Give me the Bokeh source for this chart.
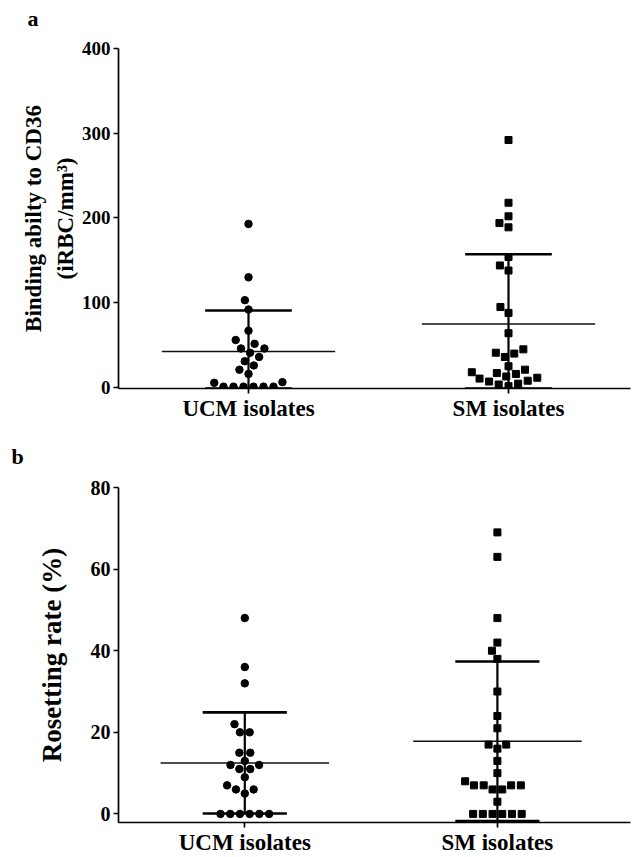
import math
from bokeh.plotting import figure
from bokeh.models import FixedTicker, Range1d, LinearAxis, Title
from bokeh.layouts import column
from bokeh.embed import file_html
from bokeh.resources import INLINE

# ---------------- data ----------------
groups = ["UCM isolates", "SM isolates"]
group_pos = [1, 2]

binding_ucm = [193, 130, 103, 92, 67, 56, 51.5, 46, 46, 41, 36, 31, 26, 21, 16,
               6.3, 5.5, 1, 1, 1, 1, 1, 1]
binding_sm = [292, 218, 202, 194, 189, 154, 144, 138, 95, 88, 64, 45, 41, 40, 36,
              25, 21, 18, 17, 16, 13, 11.5, 10.5, 8, 7, 4.5, 3.5, 1.5]

rosetting_ucm = [48, 36, 32, 22, 20, 20, 15, 15, 13, 12, 12, 11, 11, 9, 7, 6, 6, 5,
                 0, 0, 0, 0, 0, 0]
rosetting_sm = [69, 63, 48, 42, 40, 38, 30, 24, 21, 17, 17, 16, 13, 10, 8, 7, 7, 7, 7,
                6, 6, 3, 0, 0, 0, 0, 0, 0]

binding_ticks = [0, 100, 200, 300, 400]
rosetting_ticks = [0, 20, 40, 60, 80]

FONT = "Liberation Serif"


def stats(vals):
    n = len(vals)
    m = sum(vals) / n
    sd = math.sqrt(sum((v - m) ** 2 for v in vals) / (n - 1))
    return m, sd


def swarm(values, ppu, D=10.0):
    """Beeswarm offsets (in px) computed from values."""
    n = len(values)
    order = sorted(range(n), key=lambda i: values[i])
    placed = []
    off = [0.0] * n

    def ok(x, y):
        return all((x - px) ** 2 + (y - py) ** 2 >= D * D - 1e-6 for px, py in placed)

    i = 0
    while i < n:
        j = i
        while j < n and values[order[j]] == values[order[i]]:
            j += 1
        idx = order[i:j]
        y = values[idx[0]] * ppu
        k = len(idx)
        pattern = [(m - (k - 1) / 2) * D for m in range(k)]
        if k > 1 and all(ok(x, y) for x in pattern):
            for ii, x in zip(idx, pattern):
                off[ii] = x
                placed.append((x, y))
        else:
            for ii in idx:
                cands = [0.0]
                for px, py in placed:
                    dy = abs(y - py)
                    if dy < D:
                        dx = math.sqrt(D * D - dy * dy)
                        cands += [px - dx, px + dx]
                best = min((c for c in cands if ok(c, y)), key=lambda c: (abs(c), c))
                off[ii] = best
                placed.append((best, y))
        i = j
    return off


def make_panel(letter, ylabel, ticks, ystart, series, markers, msizes,
               height, b_left, b_top, b_bottom, ytick_fs, xtick_fs, ylab_fs,
               ylab_standoff, ylab_lh, letter_offset, letter_gap):
    width = 633
    b_right = 3
    frame_w = width - b_left - b_right
    frame_h = height - b_top - b_bottom
    px_per_x = 260.0
    x_start = 0.5
    x_end = x_start + frame_w / px_per_x
    y_end = ticks[-1]

    p = figure(width=width, height=height, output_backend="svg", toolbar_location=None,
               x_range=Range1d(x_start, x_end), y_range=Range1d(ystart, y_end),
               min_border_left=b_left, min_border_right=b_right, min_border_top=b_top,
               min_border_bottom=b_bottom)
    p.xgrid.visible = False
    p.ygrid.visible = False
    p.outline_line_color = None
    p.background_fill_color = "white"
    p.border_fill_color = "white"

    # blank spacer axis (white tick on white, no line, no label) between frame and letter
    spacer = LinearAxis(ticker=FixedTicker(ticks=[group_pos[0]]), axis_line_color=None,
                        major_tick_line_color="white", minor_tick_line_color=None,
                        major_tick_out=letter_gap, major_tick_in=0, minor_tick_out=0,
                        major_label_standoff=0, major_label_text_color=None,
                        major_label_overrides={group_pos[0]: ""})
    p.add_layout(spacer, "above")
    p.add_layout(Title(text=letter, text_font=FONT, text_font_style="bold",
                       text_font_size="22px", text_color="black", align="left",
                       offset=letter_offset, standoff=0), "above")

    ppu = frame_h / (y_end - ystart)

    for pos, vals, mk, ms in zip(group_pos, series, markers, msizes):
        offs = swarm(vals, ppu)
        xs = [pos + o / px_per_x for o in offs]
        m, sd = stats(vals)
        lo = max(m - sd, ystart)
        hi = m + sd
        p.segment(x0=[pos], y0=[lo], x1=[pos], y1=[hi], line_color="black", line_width=2.2)
        p.segment(x0=[pos - 1 / 6, pos - 1 / 6], y0=[hi, lo], x1=[pos + 1 / 6, pos + 1 / 6],
                  y1=[hi, lo], line_color="black", line_width=2.6)
        p.segment(x0=[pos - 1 / 3], y0=[m], x1=[pos + 1 / 3], y1=[m],
                  line_color="#111111", line_width=1.5)
        p.scatter(xs, vals, marker=mk, size=ms, fill_color="black", line_color="black")

    for ax in (p.below[0], p.left[0]):
        ax.axis_line_width = 1.7
        ax.axis_line_color = "black"
        ax.major_tick_line_width = 1.7
        ax.major_tick_line_color = "black"
        ax.major_tick_out = 5
        ax.major_tick_in = 0
        ax.minor_tick_line_color = None
        ax.major_label_text_font = FONT
        ax.major_label_text_font_style = "bold"
        ax.major_label_text_color = "black"

    xa = p.below[0]
    xa.ticker = FixedTicker(ticks=group_pos)
    xa.major_label_overrides = dict(zip(group_pos, groups))
    xa.major_label_text_font_size = xtick_fs
    xa.major_label_standoff = 2

    ya = p.left[0]
    ya.ticker = FixedTicker(ticks=ticks)
    ya.major_label_text_font_size = ytick_fs
    ya.major_label_standoff = 3
    ya.axis_label = ylabel
    ya.axis_label_text_font = FONT
    ya.axis_label_text_font_style = "bold"
    ya.axis_label_text_font_size = ylab_fs
    ya.axis_label_text_color = "black"
    ya.axis_label_standoff = ylab_standoff
    ya.axis_label_text_line_height = ylab_lh
    return p


pa = make_panel("a", "Binding abilty to CD36\n(iRBC/mm\u00b3)", binding_ticks, -1.2,
                [binding_ucm, binding_sm], ["circle", "square"], [7.5, 7],
                height=428, b_left=118, b_top=48, b_bottom=40,
                ytick_fs="19px", xtick_fs="23px", ylab_fs="23px", ylab_standoff=1,
                ylab_lh=1.3, letter_offset=-91, letter_gap=18)

pb = make_panel("b", "Rosetting rate (%)", rosetting_ticks, -2.1,
                [rosetting_ucm, rosetting_sm], ["circle", "square"], [7.5, 7],
                height=429, b_left=103, b_top=59, b_bottom=30,
                ytick_fs="20px", xtick_fs="23px", ylab_fs="27px", ylab_standoff=21,
                ylab_lh=1.2, letter_offset=-107, letter_gap=19)

layout = column(pa, pb, spacing=0)
open("out.html", "w").write(file_html(layout, INLINE))
